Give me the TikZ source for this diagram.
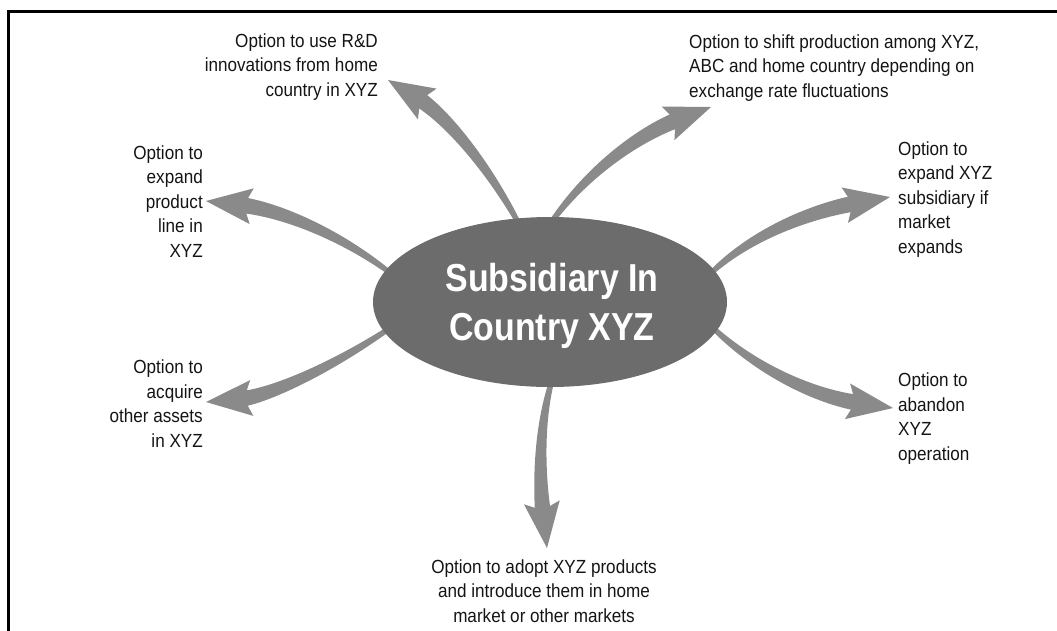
\documentclass[tikz,border=0pt]{standalone}
\usepackage{fontspec}
\setmainfont{Liberation Sans}
\newfontfamily\labelfont[FakeStretch=0.9]{Liberation Sans}
\newfontfamily\titlefont[FakeStretch=0.87]{Liberation Sans}
\usetikzlibrary{calc,shapes.geometric}
\definecolor{ellgray}{RGB}{108,108,108}
\definecolor{arrgray}{RGB}{138,138,138}
\definecolor{txtcol}{RGB}{20,20,20}
\pgfdeclarelayer{bg}
\pgfsetlayers{bg,main}
% tapered curved arrow: #1 start, #2 control 1, #3 control 2, #4 tip
\newcommand\optarrow[4]{%
  \coordinate (oaE) at ($(#4)!35pt!(#3)$);
  \coordinate (oaB) at ($(#4)!46pt!(#3)$);
  \coordinate (oaN) at ($(#4)!38pt!(#3)$);
  \fill[arrowfill] ($(#1)!2.5pt!90:(#2)$) .. controls ($(#2)!5pt!90:(#3)$) and ($(#3)!7pt!90:(#4)$) .. ($(oaE)!8pt!90:(#4)$)
     -- ($(oaE)!8pt!-90:(#4)$) .. controls ($(#3)!7pt!-90:(#4)$) and ($(#2)!5pt!-90:(#3)$) .. ($(#1)!2.5pt!-90:(#2)$) -- cycle;
  \fill[arrowfill] (#4) -- ($(oaB)!18pt!90:(#4)$) -- (oaN) -- ($(oaB)!18pt!-90:(#4)$) -- cycle;
}
\begin{document}
\begin{tikzpicture}[x=1pt,y=-1pt,
  lbl/.style={font=\labelfont\fontsize{19}{24.4}\selectfont, text=txtcol, inner sep=0pt},
  ttl/.style={font=\titlefont\bfseries\fontsize{39}{49}\selectfont, text=white, inner sep=0pt, align=center},
  arrowfill/.style={fill=arrgray},
  hub/.style={ellipse, fill=ellgray, minimum width=354pt, minimum height=170pt, inner sep=0pt}]
\useasboundingbox (0,0) rectangle (1057,630);
% frame
\draw[line width=2.8pt] (8.5,631) |- (1058,11.5);
% central ellipse
\node[hub] (ell) at (550,302) {};
\node[ttl, anchor=base] (title) at (552,340) {Subsidiary In\\Country XYZ};
% labels (anchor at the baseline of the last line)
\node[lbl, anchor=base east, align=right] (l1) at (378,96) {Option to use R\&D\\innovations from home\\country in XYZ};
\node[lbl, anchor=base west, align=left] (l2) at (689,97) {Option to shift production among XYZ,\\ABC and home country depending on\\exchange rate fluctuations};
\node[lbl, anchor=base west, align=left] (l3) at (898,253) {Option to\\expand XYZ\\subsidiary if\\market\\expands};
\node[lbl, anchor=base east, align=right] (l4) at (203,257) {Option to\\expand\\product\\line in\\XYZ};
\node[lbl, anchor=base east, align=right] (l5) at (203,447) {Option to\\acquire\\other assets\\in XYZ};
\node[lbl, anchor=base west, align=left] (l6) at (898,460) {Option to\\abandon\\XYZ\\operation};
\node[lbl, anchor=base, align=center] (l7) at (544,622) {Option to adopt XYZ products\\and introduce them in home\\market or other markets};
% arrow geometry
\coordinate (s1) at (519,224); \coordinate (a1) at (484,159); \coordinate (b1) at (442,113); \coordinate (t1) at (388,80);
\coordinate (s2) at (550,224); \coordinate (a2) at (588,170); \coordinate (b2) at (640,134); \coordinate (t2) at (711,107);
\coordinate (s3) at (711,273); \coordinate (a3) at (750,236); \coordinate (b3) at (807,212); \coordinate (t3) at (890,197);
\coordinate (s4) at (389,272); \coordinate (a4) at (335,231); \coordinate (b4) at (276,209); \coordinate (t4) at (206,201);
\coordinate (s5) at (390,328); \coordinate (a5) at (322,374); \coordinate (b5) at (263,397); \coordinate (t5) at (206,402);
\coordinate (s6) at (712,327); \coordinate (a6) at (759,372); \coordinate (b6) at (818,397); \coordinate (t6) at (893,408);
\coordinate (s7) at (552,380); \coordinate (a7) at (536,435); \coordinate (b7) at (541,495); \coordinate (t7) at (547,548);
\begin{pgfonlayer}{bg}
\optarrow{s1}{a1}{b1}{t1}
\optarrow{s2}{a2}{b2}{t2}
\optarrow{s3}{a3}{b3}{t3}
\optarrow{s4}{a4}{b4}{t4}
\optarrow{s5}{a5}{b5}{t5}
\optarrow{s6}{a6}{b6}{t6}
\optarrow{s7}{a7}{b7}{t7}
\end{pgfonlayer}
\end{tikzpicture}
\end{document}
